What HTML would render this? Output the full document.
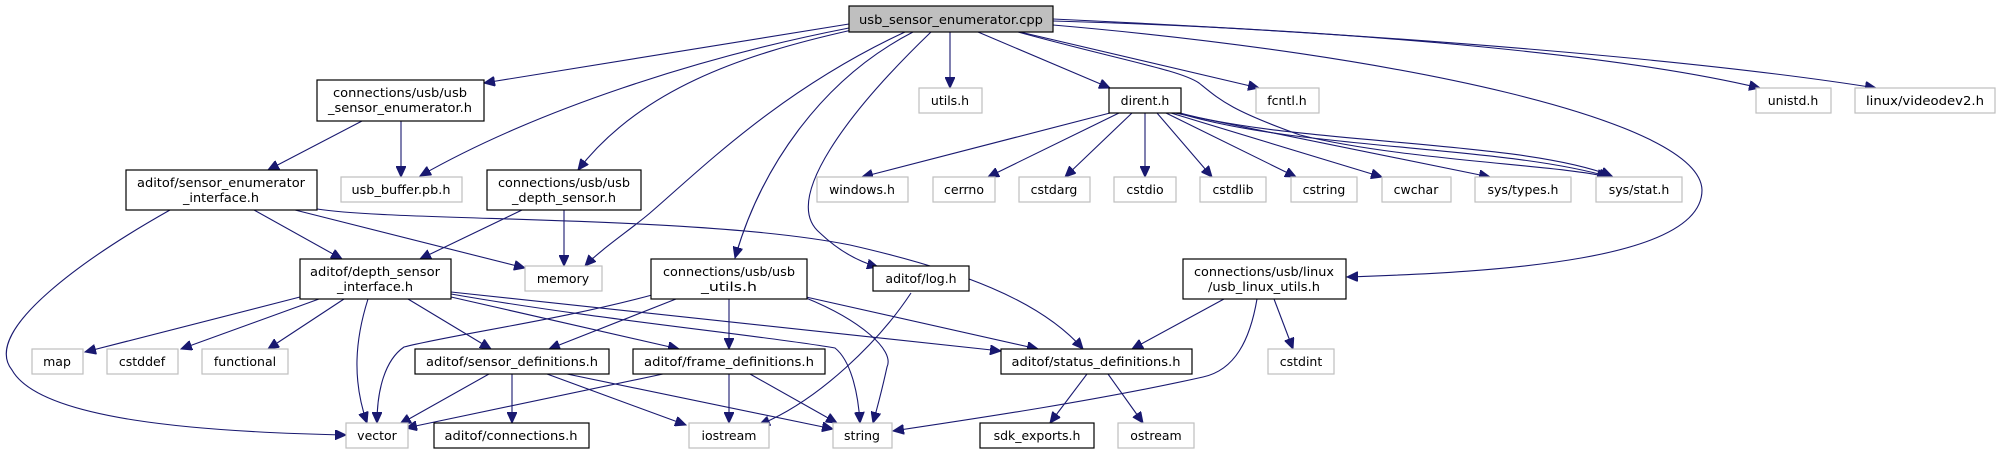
<!DOCTYPE html>
<html><head><meta charset="utf-8"><style>
html,body{margin:0;padding:0;background:#fff;}
svg{display:block;}
text{font-family:"DejaVu Sans","Liberation Sans",sans-serif;font-size:12.5px;fill:#000;}
.e{fill:none;stroke:#191970;stroke-width:1.1;marker-end:url(#a);}
.b{fill:#fff;stroke:#000;stroke-width:1.2;}
.g{fill:#fff;stroke:#bfbfbf;stroke-width:1.2;}
</style></head><body>
<svg width="1997" height="455" viewBox="0 0 1997 455" xmlns="http://www.w3.org/2000/svg">
<defs><marker id="a" markerUnits="userSpaceOnUse" markerWidth="12" markerHeight="10" refX="11" refY="5" orient="auto"><path d="M0,0 L11,5 L0,10 z" fill="#191970" stroke="#191970"/></marker></defs>

<!-- edges from cpp -->
<path class="e" d="M849,24 L484,83"/>
<path class="e" d="M849,28 C700,57 536,110 420,176"/>
<path class="e" d="M852,30 C740,55 640,90 578,170"/>
<path class="e" d="M905,32 C780,90 700,170 650,213 C630,230 600,250 585,266"/>
<path class="e" d="M913,32 C820,80 760,170 735,258"/>
<path class="e" d="M931,32 C850,110 780,200 820,233 C840,252 860,262 878,267"/>
<path class="e" d="M950,32 L950,88"/>
<path class="e" d="M978,32 L1110,88"/>
<path class="e" d="M1020,32 L1259,88"/>
<path class="e" d="M1018,32 C1120,60 1180,70 1199,83 C1220,100 1230,110 1300,135 C1400,160 1560,165 1608,177"/>
<path class="e" d="M1053,25 C1400,55 1700,120 1702,190 C1702,260 1500,272 1347,277"/>
<path class="e" d="M1053,21 C1300,28 1600,50 1760,88"/>
<path class="e" d="M1053,19 C1400,35 1700,60 1876,88"/>

<!-- dirent edges -->
<path class="e" d="M1110,113 L862,177"/>
<path class="e" d="M1119,113 L988,177"/>
<path class="e" d="M1132,113 L1065,177"/>
<path class="e" d="M1145,113 L1145,177"/>
<path class="e" d="M1157,113 L1212,177"/>
<path class="e" d="M1166,113 L1296,177"/>
<path class="e" d="M1171,113 L1382,177"/>
<path class="e" d="M1175,113 L1490,177"/>
<path class="e" d="M1178,113 C1300,150 1500,145 1610,177"/>
<path class="e" d="M1180,113 C1300,145 1520,140 1612,176"/>

<!-- usb_sensor_enumerator.h -->
<path class="e" d="M362,121 L268,170"/>
<path class="e" d="M401,121 L401,177"/>
<!-- sensor_enumerator_interface -->
<path class="e" d="M170,210 C90,255 -20,330 12,370 C40,420 200,432 346,435"/>
<path class="e" d="M254,210 L342,259"/>
<path class="e" d="M295,210 L525,268"/>
<path class="e" d="M317,209 C400,222 700,215 850,245 C960,270 1040,300 1083,349"/>
<!-- usb_depth_sensor -->
<path class="e" d="M522,210 L420,259"/>
<path class="e" d="M564,210 L564,266"/>
<!-- depth_sensor_interface -->
<path class="e" d="M300,297 L85,352"/>
<path class="e" d="M319,299 L181,349"/>
<path class="e" d="M344,299 L268,349"/>
<path class="e" d="M368,299 C355,340 352,380 367,423"/>
<path class="e" d="M408,299 L491,349"/>
<path class="e" d="M451,297 L679,349"/>
<path class="e" d="M451,292 L1001,351"/>
<path class="e" d="M451,294 C600,320 760,335 835,348 C850,360 858,390 860,423"/>
<!-- usb_utils -->
<path class="e" d="M652,295 C560,320 450,335 404,347 C385,360 377,390 377,423"/>
<path class="e" d="M676,299 L549,349"/>
<path class="e" d="M729,299 L729,349"/>
<path class="e" d="M806,297 L1038,349"/>
<path class="e" d="M806,298 C860,320 895,350 887,367 C882,390 878,405 873,423"/>
<!-- log -->
<path class="e" d="M911,293 C880,340 820,400 759,425"/>
<!-- linux utils -->
<path class="e" d="M1224,299 L1132,349"/>
<path class="e" d="M1274,299 L1293,349"/>
<path class="e" d="M1257,299 C1250,340 1235,370 1203,377 C1100,400 980,418 893,431"/>
<!-- status -->
<path class="e" d="M1087,374 L1050,423"/>
<path class="e" d="M1108,374 L1143,423"/>
<!-- sensor_definitions -->
<path class="e" d="M489,374 L400,424"/>
<path class="e" d="M512,374 L512,423"/>
<path class="e" d="M547,374 L686,425"/>
<path class="e" d="M567,374 L833,429"/>
<!-- frame_definitions -->
<path class="e" d="M663,374 L406,428"/>
<path class="e" d="M729,374 L729,423"/>
<path class="e" d="M750,374 L837,423"/>

<!-- nodes -->
<rect x="849" y="6" width="204" height="26" fill="#bfbfbf" stroke="#000" stroke-width="1.2"/>
<text x="951" y="24" text-anchor="middle" textLength="184" lengthAdjust="spacingAndGlyphs">usb_sensor_enumerator.cpp</text>

<rect class="b" x="317" y="80" width="167" height="41"/>
<text x="400" y="97" text-anchor="middle" textLength="134" lengthAdjust="spacingAndGlyphs">connections/usb/usb</text>
<text x="400" y="112" text-anchor="middle" textLength="144" lengthAdjust="spacingAndGlyphs">_sensor_enumerator.h</text>

<rect class="g" x="919" y="88" width="63" height="25"/><text x="950" y="105" text-anchor="middle">utils.h</text>
<rect class="b" x="1109" y="88" width="72" height="25"/><text x="1145" y="105" text-anchor="middle">dirent.h</text>
<rect class="g" x="1256" y="88" width="63" height="25"/><text x="1287" y="105" text-anchor="middle">fcntl.h</text>
<rect class="g" x="1756" y="88" width="75" height="25"/><text x="1793" y="105" text-anchor="middle">unistd.h</text>
<rect class="g" x="1855" y="88" width="140" height="25"/><text x="1925" y="105" text-anchor="middle" textLength="118" lengthAdjust="spacingAndGlyphs">linux/videodev2.h</text>

<rect class="b" x="126" y="170" width="191" height="40"/>
<text x="221" y="187" text-anchor="middle" textLength="168" lengthAdjust="spacingAndGlyphs">aditof/sensor_enumerator</text>
<text x="221" y="202" text-anchor="middle" textLength="76" lengthAdjust="spacingAndGlyphs">_interface.h</text>
<rect class="g" x="341" y="177" width="121" height="25"/><text x="401" y="194" text-anchor="middle" textLength="99" lengthAdjust="spacingAndGlyphs">usb_buffer.pb.h</text>
<rect class="b" x="487" y="170" width="154" height="40"/>
<text x="564" y="187" text-anchor="middle" textLength="132" lengthAdjust="spacingAndGlyphs">connections/usb/usb</text>
<text x="564" y="202" text-anchor="middle" textLength="104" lengthAdjust="spacingAndGlyphs">_depth_sensor.h</text>

<rect class="g" x="817" y="177" width="91" height="25"/><text x="862" y="194" text-anchor="middle">windows.h</text>
<rect class="g" x="933" y="177" width="62" height="25"/><text x="964" y="194" text-anchor="middle">cerrno</text>
<rect class="g" x="1019" y="177" width="71" height="25"/><text x="1054" y="194" text-anchor="middle">cstdarg</text>
<rect class="g" x="1114" y="177" width="62" height="25"/><text x="1145" y="194" text-anchor="middle">cstdio</text>
<rect class="g" x="1200" y="177" width="66" height="25"/><text x="1233" y="194" text-anchor="middle">cstdlib</text>
<rect class="g" x="1291" y="177" width="66" height="25"/><text x="1324" y="194" text-anchor="middle">cstring</text>
<rect class="g" x="1382" y="177" width="69" height="25"/><text x="1416" y="194" text-anchor="middle">cwchar</text>
<rect class="g" x="1475" y="177" width="96" height="25"/><text x="1523" y="194" text-anchor="middle">sys/types.h</text>
<rect class="g" x="1596" y="177" width="86" height="25"/><text x="1639" y="194" text-anchor="middle">sys/stat.h</text>

<rect class="b" x="300" y="259" width="151" height="40"/>
<text x="375" y="276" text-anchor="middle" textLength="130" lengthAdjust="spacingAndGlyphs">aditof/depth_sensor</text>
<text x="375" y="291" text-anchor="middle" textLength="76" lengthAdjust="spacingAndGlyphs">_interface.h</text>
<rect class="g" x="525" y="266" width="77" height="25"/><text x="563" y="283" text-anchor="middle">memory</text>
<rect class="b" x="651" y="259" width="156" height="40"/>
<text x="729" y="276" text-anchor="middle" textLength="132" lengthAdjust="spacingAndGlyphs">connections/usb/usb</text>
<text x="729" y="291" text-anchor="middle" textLength="56" lengthAdjust="spacingAndGlyphs">_utils.h</text>
<rect class="b" x="873" y="266" width="96" height="25"/><text x="921" y="283" text-anchor="middle">aditof/log.h</text>
<rect class="b" x="1183" y="259" width="163" height="40"/>
<text x="1264" y="276" text-anchor="middle" textLength="140" lengthAdjust="spacingAndGlyphs">connections/usb/linux</text>
<text x="1264" y="291" text-anchor="middle" textLength="112" lengthAdjust="spacingAndGlyphs">/usb_linux_utils.h</text>

<rect class="g" x="32" y="349" width="51" height="25"/><text x="57" y="366" text-anchor="middle">map</text>
<rect class="g" x="107" y="349" width="71" height="25"/><text x="142" y="366" text-anchor="middle">cstddef</text>
<rect class="g" x="202" y="349" width="86" height="25"/><text x="245" y="366" text-anchor="middle">functional</text>
<rect class="b" x="415" y="349" width="194" height="25"/><text x="512" y="366" text-anchor="middle" textLength="172" lengthAdjust="spacingAndGlyphs">aditof/sensor_definitions.h</text>
<rect class="b" x="633" y="349" width="192" height="25"/><text x="729" y="366" text-anchor="middle" textLength="170" lengthAdjust="spacingAndGlyphs">aditof/frame_definitions.h</text>
<rect class="b" x="1001" y="349" width="191" height="25"/><text x="1096" y="366" text-anchor="middle" textLength="169" lengthAdjust="spacingAndGlyphs">aditof/status_definitions.h</text>
<rect class="g" x="1268" y="349" width="66" height="25"/><text x="1301" y="366" text-anchor="middle">cstdint</text>

<rect class="g" x="346" y="423" width="62" height="25"/><text x="377" y="440" text-anchor="middle">vector</text>
<rect class="b" x="434" y="423" width="155" height="25"/><text x="511" y="440" text-anchor="middle" textLength="133" lengthAdjust="spacingAndGlyphs">aditof/connections.h</text>
<rect class="g" x="689" y="423" width="80" height="25"/><text x="729" y="440" text-anchor="middle">iostream</text>
<rect class="g" x="833" y="423" width="59" height="25"/><text x="862" y="440" text-anchor="middle">string</text>
<rect class="b" x="980" y="423" width="114" height="25"/><text x="1037" y="440" text-anchor="middle">sdk_exports.h</text>
<rect class="g" x="1118" y="423" width="76" height="25"/><text x="1156" y="440" text-anchor="middle">ostream</text>
</svg>
</body></html>
